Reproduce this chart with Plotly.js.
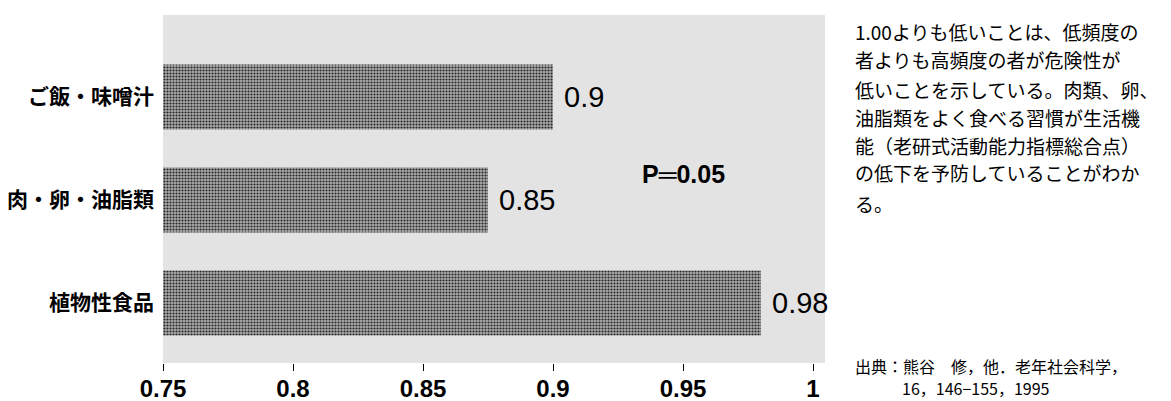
<!DOCTYPE html>
<html>
<head>
<meta charset="utf-8">
<script src="https://cdn.plot.ly/plotly-3.0.1.min.js"></script>
<style>
html,body{margin:0;padding:0;background:#fff;}
#chart{width:1171px;height:401px;}
</style>
</head>
<body>
<div id="chart"></div>
<script>
// ---- data ----
const categories = ['ご飯・味噌汁', '肉・卵・油脂類', '植物性食品'];
const barValues = [0.90, 0.875, 0.98];          // bar lengths as drawn
const barLabels = ['0.9', '0.85', '0.98'];      // printed value labels
const xTickVals = [0.75, 0.8, 0.85, 0.9, 0.95, 1];
const xTickText = ['0.75', '0.8', '0.85', '0.9', '0.95', '1'];
const pText = 'P═0.05';
const noteLines = [
  '1.00よりも低いことは、低頻度の',
  '者よりも高頻度の者が危険性が',
  '低いことを示している。肉類、卵、',
  '油脂類をよく食べる習慣が生活機',
  '能（老研式活動能力指標総合点）',
  'の低下を予防していることがわか',
  'る。'
];
const sourceLines = ['出典：熊谷　修，他．老年社会科学，', '16，146−155，1995'];

// ---- layout helpers ----
const W = 1171, H = 401;
const mL = 163, mR = 1171 - 825, mT = 15, mB = 401 - 363;
const pw = W - mL - mR, ph = H - mT - mB;
const px = x => (x - mL) / pw;
const py = y => (H - mB - y) / ph;

const trace = {
  type: 'bar',
  orientation: 'h',
  y: categories,
  x: barValues,
  base: 0,
  width: 0.63,
  marker: {color: '#8a8a8a', line: {width: 0},
           pattern: {shape: '.', fgcolor: '#262626', bgcolor: '#ababab', size: 3, solidity: 0.4, fillmode: 'replace'}},
  text: barLabels,
  texttemplate: '\u00a0%{text}',
  textposition: 'outside',
  constraintext: 'none',
  cliponaxis: false,
  textfont: {family: '"Liberation Sans Narrow", "Liberation Sans", Arial, sans-serif', size: 29, color: '#000'},
  hoverinfo: 'skip'
};

const CJK = '"Noto Sans CJK JP", "Noto Sans", sans-serif';
const annotations = [];
annotations.push({
  xref: 'paper', yref: 'paper', x: px(683), y: py(174),
  xanchor: 'center', yanchor: 'middle', showarrow: false,
  text: '<b>' + pText + '</b>',
  font: {family: '"Liberation Sans", Arial, sans-serif', size: 25, color: '#000'}
});
const noteY = [32, 60, 89, 117, 145, 173, 203];
noteLines.forEach((t, i) => annotations.push({
  xref: 'paper', yref: 'paper', x: px(853), y: py(noteY[i]),
  xanchor: 'left', yanchor: 'middle', showarrow: false,
  text: t, font: {family: CJK, size: 19, color: '#000'}
}));
const srcX = [853, 900], srcY = [366, 388];
sourceLines.forEach((t, i) => annotations.push({
  xref: 'paper', yref: 'paper', x: px(srcX[i]), y: py(srcY[i]),
  xanchor: 'left', yanchor: 'middle', showarrow: false,
  text: t, font: {family: CJK, size: 16, color: '#000'}
}));

const layout = {
  width: W, height: H,
  margin: {l: mL, r: mR, t: mT, b: mB, pad: 0},
  paper_bgcolor: '#ffffff',
  plot_bgcolor: '#e3e3e3',
  showlegend: false,
  xaxis: {
    range: [0.75, 0.75 + 0.25 * (662 / 650)],
    tickvals: xTickVals, ticktext: xTickText,
    ticks: 'outside', ticklen: 7, tickwidth: 1, tickcolor: '#000',
    ticklabelstandoff: -3,
    showgrid: false, zeroline: false, showline: false,
    tickfont: {family: '"Liberation Sans", Arial, sans-serif', size: 24, color: '#000', weight: 'bold'},
    fixedrange: true
  },
  yaxis: {
    type: 'category',
    categoryorder: 'array', categoryarray: categories,
    range: [2.583, -0.796],
    ticks: '', showgrid: false, zeroline: false, showline: false,
    ticklabelstandoff: 8,
    tickfont: {family: CJK, size: 21, color: '#000', weight: 'bold'},
    fixedrange: true
  },
  annotations: annotations
};

Plotly.newPlot('chart', [trace], layout, {displayModeBar: false, staticPlot: true});
</script>
</body>
</html>
